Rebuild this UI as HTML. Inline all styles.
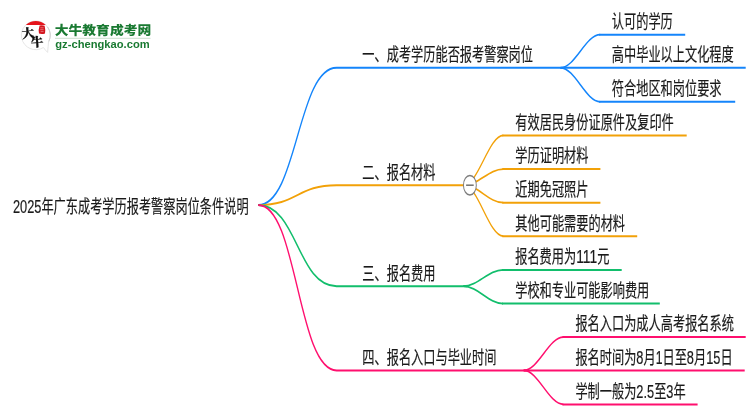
<!DOCTYPE html>
<html lang="zh-CN"><head><meta charset="utf-8"><title>2025年广东成考学历报考警察岗位条件说明</title>
<style>
html,body{margin:0;padding:0;background:#fff;}
body{width:750px;height:410px;overflow:hidden;position:relative;}
svg{position:absolute;left:0;top:0;display:block;will-change:transform}
.t{font-family:"Liberation Sans","Noto Sans CJK SC",sans-serif;font-size:18.6px;fill:#1a1a1a;font-weight:400;stroke:#1a1a1a;stroke-width:0.2px}
.ln path{fill:none;stroke-width:2.0;stroke-linecap:butt;stroke-linejoin:round}
</style></head><body>
<svg width="750" height="410" viewBox="0 0 750 410">
<g transform="scale(0.655,1)">
<g class="ln">
<path d="M394.20,205.00 C454.05,205.00 454.05,67.80 513.89,67.80 L861.83,67.80" stroke="#1485fb"/>
<path d="M855.73,67.80 C877.86,67.80 894.20,34.65 916.34,34.65" stroke="#1485fb" style="stroke-width:1.75"/>
<path d="M914.81,34.65 L1046.11,34.65" stroke="#1485fb"/>
<path d="M855.73,67.80 L1138.47,67.80" stroke="#1485fb"/>
<path d="M855.73,67.80 C877.86,67.80 894.20,101.75 916.34,101.75" stroke="#1485fb" style="stroke-width:1.75"/>
<path d="M914.81,101.75 L1122.44,101.75" stroke="#1485fb"/>
<path d="M394.20,205.00 C454.05,205.00 454.05,185.20 513.89,185.20 L708.09,185.20" stroke="#f2a108"/>
<path d="M708.09,185.20 C730.23,185.20 746.26,135.45 768.40,135.45" stroke="#f2a108" style="stroke-width:1.75"/>
<path d="M766.87,135.45 L1048.40,135.45" stroke="#f2a108"/>
<path d="M708.09,185.20 C730.23,185.20 746.26,169.10 768.40,169.10" stroke="#f2a108" style="stroke-width:1.75"/>
<path d="M766.87,169.10 L916.64,169.10" stroke="#f2a108"/>
<path d="M708.09,185.20 C730.23,185.20 746.26,202.70 768.40,202.70" stroke="#f2a108" style="stroke-width:1.75"/>
<path d="M766.87,202.70 L916.64,202.70" stroke="#f2a108"/>
<path d="M708.09,185.20 C730.23,185.20 746.26,236.20 768.40,236.20" stroke="#f2a108" style="stroke-width:1.75"/>
<path d="M766.87,236.20 L972.82,236.20" stroke="#f2a108"/>
<path d="M394.20,205.00 C454.05,205.00 454.05,286.20 513.89,286.20 L713.44,286.20" stroke="#12be6c"/>
<path d="M707.33,286.20 C729.47,286.20 745.80,269.90 767.94,269.90" stroke="#12be6c" style="stroke-width:1.75"/>
<path d="M766.41,269.90 L949.16,269.90" stroke="#12be6c"/>
<path d="M707.33,286.20 C729.47,286.20 745.80,303.50 767.94,303.50" stroke="#12be6c" style="stroke-width:1.75"/>
<path d="M766.41,303.50 L1007.33,303.50" stroke="#12be6c"/>
<path d="M394.20,205.00 C454.05,205.00 454.05,370.40 513.89,370.40 L805.65,370.40" stroke="#ff0f6e"/>
<path d="M799.54,370.40 C821.68,370.40 838.02,337.10 860.15,337.10" stroke="#ff0f6e" style="stroke-width:1.75"/>
<path d="M858.63,337.10 L1138.47,337.10" stroke="#ff0f6e"/>
<path d="M799.54,370.40 L1136.95,370.40" stroke="#ff0f6e"/>
<path d="M799.54,370.40 C821.68,370.40 838.02,404.40 860.15,404.40" stroke="#ff0f6e" style="stroke-width:1.75"/>
<path d="M858.63,404.40 L1065.04,404.40" stroke="#ff0f6e"/>
</g>
<circle cx="717.40" cy="185.2" r="9.8" fill="#fff" stroke="#7d7d7d" stroke-width="1.5"/><path d="M711.60,185.2 H723.21" stroke="#707070" stroke-width="1.5" fill="none"/>
</g>
<g>
<text class="t" transform="translate(12.90,212.90) scale(0.6559,1)"><tspan textLength="43.43" lengthAdjust="spacingAndGlyphs">2025</tspan>年广东成考学历报考警察岗位条件说明</text>
<text class="t" transform="translate(362.30,61.10) scale(0.6559,1)">一、成考学历能否报考警察岗位</text>
<text class="t" transform="translate(611.80,27.95) scale(0.6559,1)">认可的学历</text>
<text class="t" transform="translate(611.80,61.10) scale(0.6559,1)">高中毕业以上文化程度</text>
<text class="t" transform="translate(611.80,95.05) scale(0.6559,1)">符合地区和岗位要求</text>
<text class="t" transform="translate(362.30,178.50) scale(0.6559,1)">二、报名材料</text>
<text class="t" transform="translate(515.30,128.75) scale(0.6559,1)">有效居民身份证原件及复印件</text>
<text class="t" transform="translate(515.30,162.40) scale(0.6559,1)">学历证明材料</text>
<text class="t" transform="translate(515.30,196.00) scale(0.6559,1)">近期免冠照片</text>
<text class="t" transform="translate(515.30,229.50) scale(0.6559,1)">其他可能需要的材料</text>
<text class="t" transform="translate(362.30,279.50) scale(0.6559,1)">三、报名费用</text>
<text class="t" transform="translate(515.20,263.20) scale(0.6559,1)">报名费用为<tspan textLength="32.12" lengthAdjust="spacingAndGlyphs">111</tspan>元</text>
<text class="t" transform="translate(515.20,296.80) scale(0.6559,1)">学校和专业可能影响费用</text>
<text class="t" transform="translate(362.30,363.70) scale(0.6559,1)">四、报名入口与毕业时间</text>
<text class="t" transform="translate(575.40,330.40) scale(0.6559,1)">报名入口为成人高考报名系统</text>
<text class="t" transform="translate(575.40,363.70) scale(0.6559,1)">报名时间为<tspan textLength="10.86" lengthAdjust="spacingAndGlyphs">8</tspan>月<tspan textLength="10.40" lengthAdjust="spacingAndGlyphs">1</tspan>日至<tspan textLength="10.86" lengthAdjust="spacingAndGlyphs">8</tspan>月<tspan textLength="21.72" lengthAdjust="spacingAndGlyphs">15</tspan>日</text>
<text class="t" transform="translate(575.40,397.70) scale(0.6559,1)">学制一般为<tspan textLength="27.15" lengthAdjust="spacingAndGlyphs">2.5</tspan>至<tspan textLength="10.86" lengthAdjust="spacingAndGlyphs">3</tspan>年</text>
</g>
<g id="logo">
<path d="M43.43,47.51 A14.4,14.4 0 1 1 48.51,42.06 Q48.21,46.06 47.6,52.4 Q44.93,49.71 43.43,47.51 Z" fill="#fff" stroke="#e3e3e3" stroke-width="0.9"/>
<path d="M47.60,27.04 A14.4,14.4 0 0 1 48.85,41.39" fill="none" stroke="#cdcdcd" stroke-width="1"/>
<path d="M25.84,24.9 A14.4,14.4 0 0 1 45.76,24.9 Z" fill="#e5141c"/>
<text x="21.8" y="37.8" font-family="'Liberation Serif','Noto Serif CJK SC',serif" font-weight="900" font-size="12.5" fill="#111" stroke="#111" stroke-width="0.25" transform="rotate(-6 27 33)">大</text>
<text x="30.9" y="46.6" font-family="'Liberation Serif','Noto Serif CJK SC',serif" font-weight="900" font-size="12.5" fill="#111" stroke="#111" stroke-width="0.25" transform="rotate(-4 37 42)">牛</text>
<path d="M39.6,25.6 Q42,24.8 44.6,25.8 Q45.6,29.6 45,33.4 Q42,34.4 39,33.6 Q38.2,29.6 39.6,25.6 Z" fill="#d3141d"/>
<path d="M40.4,27.8 h3.2 M40.2,29.7 h3.4 M40.6,31.6 h3" stroke="#f0a9ad" stroke-width="0.6" fill="none"/>
<text x="54.8" y="34.7" font-family="'Liberation Sans','Noto Sans CJK SC',sans-serif" font-weight="900" font-size="12.2" fill="#1a7a32" textLength="96.4" lengthAdjust="spacingAndGlyphs">大牛教育成考网</text>
<path d="M55,38.3 H150.5" stroke="#bcd6c0" stroke-width="0.8" fill="none"/>
<text x="55.3" y="48.2" font-family="'Liberation Sans',sans-serif" font-weight="700" font-size="10" fill="#1a7a32" textLength="94.4" lengthAdjust="spacingAndGlyphs">gz-chengkao.com</text>
</g>

</svg>
</body></html>
